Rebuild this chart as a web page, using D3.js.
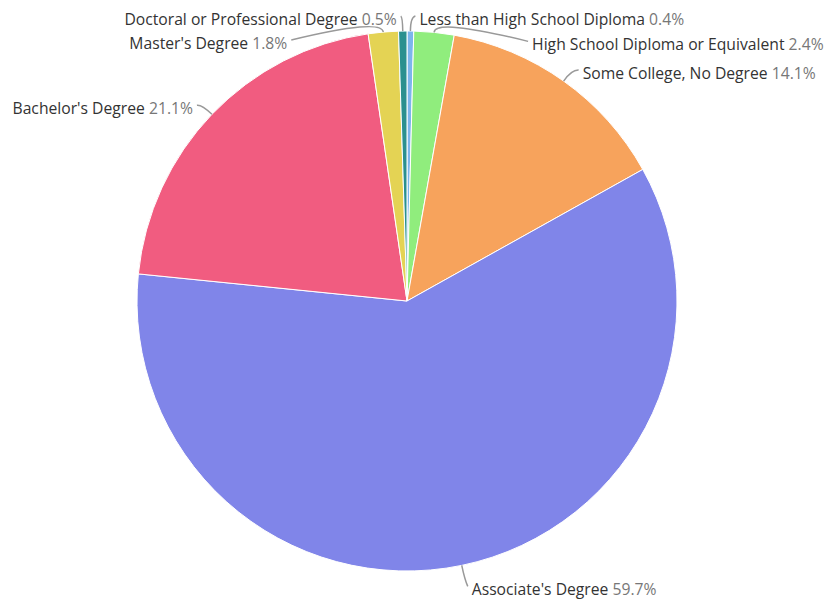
<!DOCTYPE html>
<html>
<head>
<meta charset="utf-8">
<script src="https://cdn.jsdelivr.net/npm/d3@7"></script>
<style>
  body { margin: 0; background: #fff; }
  .lbl { font-family: "Open Sans", sans-serif; font-size: 15.7px; }
</style>
</head>
<body>
<div id="chart"></div>
<script>
var svgWidth = 827;
var svgHeight = 602;

// Data
var categories = [
  "Less than High School Diploma",
  "High School Diploma or Equivalent",
  "Some College, No Degree",
  "Associate's Degree",
  "Bachelor's Degree",
  "Master's Degree",
  "Doctoral or Professional Degree"
];
var shares = [0.4, 2.4, 14.1, 59.7, 21.1, 1.8, 0.5];
var colors = ["#7cb5ec", "#90ed7d", "#f7a35c", "#8085e9", "#f15c80", "#e4d354", "#2b908f"];

// label nudges relative to slice edge (layout only)
var labelOffsets = [
  [9, -12], [98, 12], [19, -8], [10, 24], [-19, -6], [-96, 11], [-6, -12]
];

var cx = 407, cy = 301, radius = 270;

var svg = d3.select("#chart")
  .append("svg")
  .attr("width", svgWidth)
  .attr("height", svgHeight);

var g = svg.append("g")
  .attr("transform", `translate(${cx}, ${cy})`);

var rows = categories.map((c, i) => ({ name: c, value: shares[i], color: colors[i], off: labelOffsets[i] }));

var pie = d3.pie().sort(null).value(d => d.value);
var arc = d3.arc().innerRadius(0).outerRadius(radius);

var arcs = pie(rows);

g.selectAll("path.slice")
  .data(arcs)
  .enter()
  .append("path")
  .attr("class", "slice")
  .attr("d", arc)
  .attr("fill", d => d.data.color)
  .attr("stroke", "#fff")
  .attr("stroke-width", 1);

function pointAt(a, r) {
  return [Math.sin(a) * r, -Math.cos(a) * r];
}

arcs.forEach(function(d) {
  var mid = (d.startAngle + d.endAngle) / 2;
  var p0 = pointAt(mid, radius);
  var p1 = pointAt(mid, radius + 14);
  var left = d.data.off[0] < 0;
  var tx = p0[0] + d.data.off[0];
  var ty = p0[1] + d.data.off[1];
  var endX = left ? tx + 4 : tx - 4;
  var endY = ty - 3;

  g.append("path")
    .attr("d", `M${p0[0]},${p0[1]} Q${p1[0]},${p1[1]} ${endX},${endY}`)
    .attr("fill", "none")
    .attr("stroke", "#999")
    .attr("stroke-width", 1.5);

  var t = g.append("text")
    .attr("class", "lbl")
    .attr("x", tx)
    .attr("y", ty)
    .attr("dy", "0.35em")
    .attr("text-anchor", left ? "end" : "start");
  t.append("tspan").attr("fill", "#333").text(d.data.name + " ");
  t.append("tspan").attr("fill", "#777").text(d.data.value + "%");
});
</script>
</body>
</html>
